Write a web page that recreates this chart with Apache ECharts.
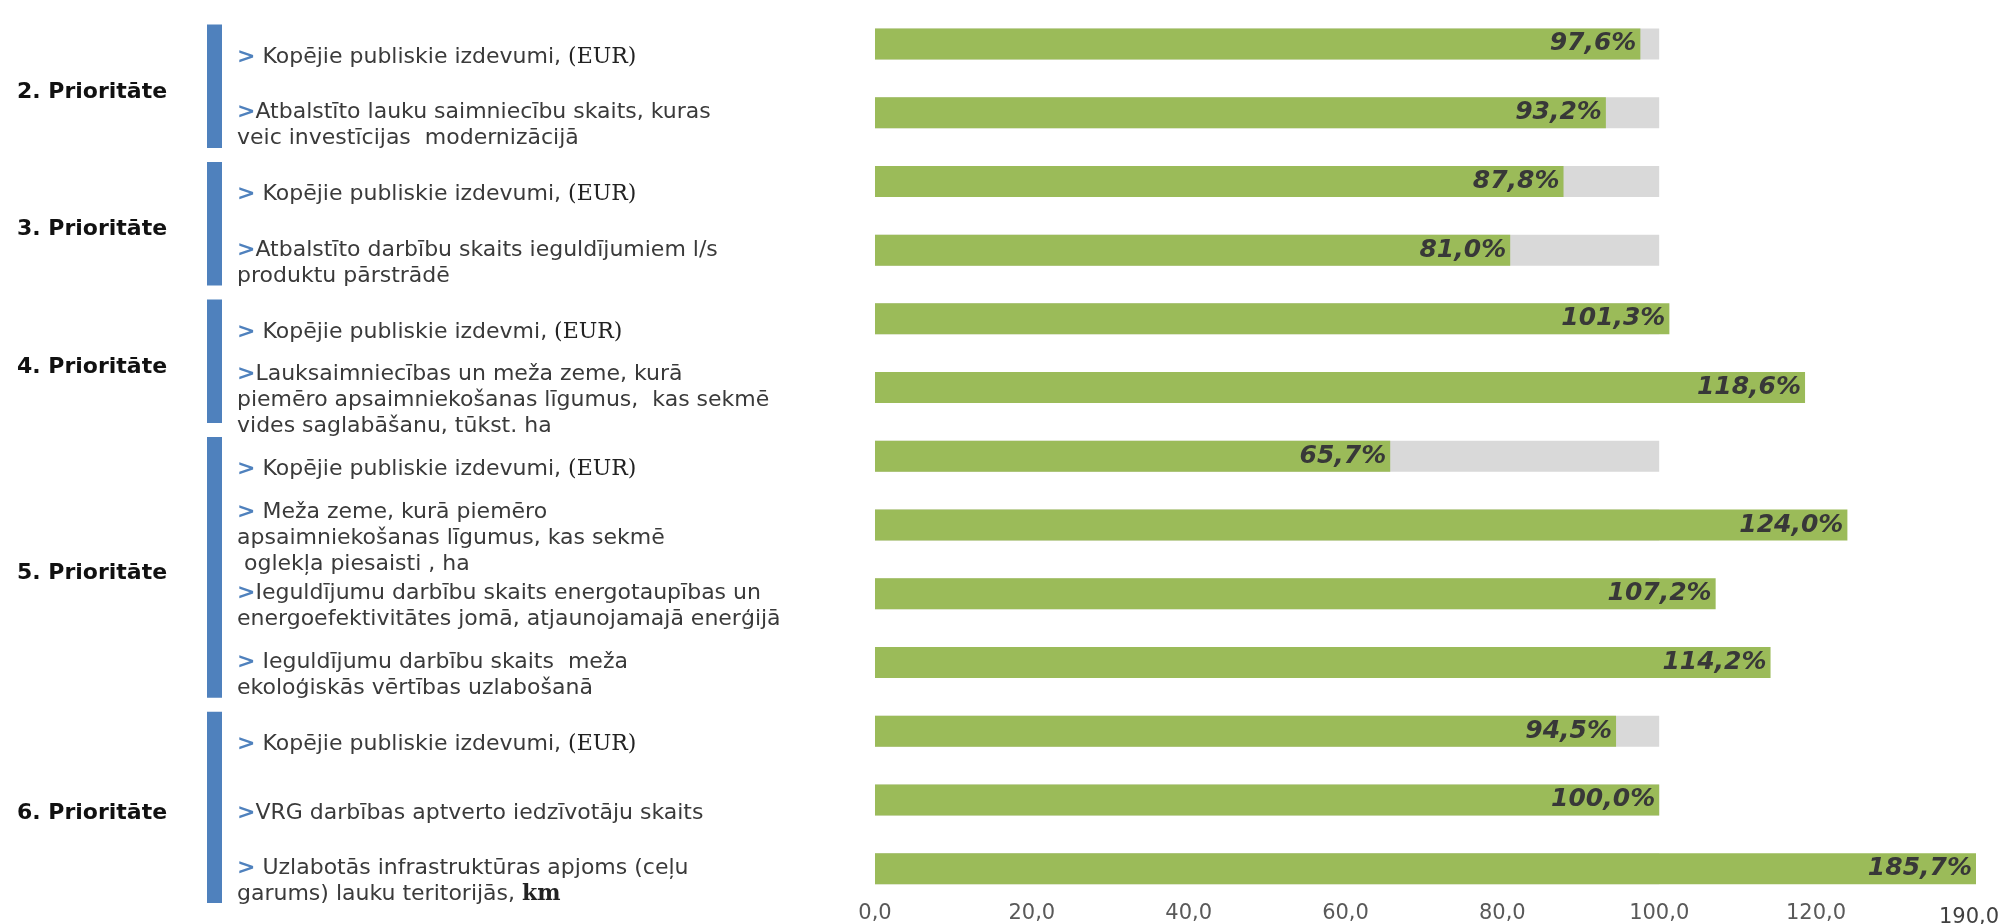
<!DOCTYPE html>
<html>
<head>
<meta charset="utf-8">
<script src="https://cdn.jsdelivr.net/npm/echarts@6/dist/echarts.min.js"></script>
<style>
  html, body { margin: 0; padding: 0; background: #ffffff; }
  #chart { width: 2005px; height: 924px; }
</style>
</head>
<body>
<div id="chart"></div>
<script>
// ---- data ----
const categories = [
  ' Kopējie publiskie izdevumi, (EUR)',
  'Atbalstīto lauku saimniecību skaits, kuras\nveic investīcijas  modernizācijā',
  ' Kopējie publiskie izdevumi, (EUR)',
  'Atbalstīto darbību skaits ieguldījumiem l/s\nproduktu pārstrādē',
  ' Kopējie publiskie izdevmi, (EUR)',
  'Lauksaimniecības un meža zeme, kurā\npiemēro apsaimniekošanas līgumus,  kas sekmē\nvides saglabāšanu, tūkst. ha',
  ' Kopējie publiskie izdevumi, (EUR)',
  ' Meža zeme, kurā piemēro\napsaimniekošanas līgumus, kas sekmē\n oglekļa piesaisti , ha',
  'Ieguldījumu darbību skaits energotaupības un\nenergoefektivitātes jomā, atjaunojamajā enerģijā',
  ' Ieguldījumu darbību skaits  meža\nekoloģiskās vērtības uzlabošanā',
  ' Kopējie publiskie izdevumi, (EUR)',
  'VRG darbības aptverto iedzīvotāju skaits',
  ' Uzlabotās infrastruktūras apjoms (ceļu\ngarums) lauku teritorijās, km'
];
const achieved = [97.6, 93.2, 87.8, 81.0, 101.3, 118.6, 65.7, 124.0, 107.2, 114.2, 94.5, 100.0, 185.7];
const target = [100, 100, 100, 100, 100, 100, 100, 100, 100, 100, 100, 100, 100];
const groupNames = ['2. Prioritāte', '3. Prioritāte', '4. Prioritāte', '5. Prioritāte', '6. Prioritāte'];
const groupStart = [0, 2, 4, 6, 10];
const groupEnd = [1, 3, 5, 9, 12];
const axisMax = 140.4;           // visible end of the value axis
const axisTickStep = 20;
const axisMaxLabel = '190,0';

// ---- chart ----
const chart = echarts.init(document.getElementById('chart'), null, { renderer: 'canvas' });

function fmtNum(v) { return v.toFixed(1).replace('.', ','); }

const option = {
  backgroundColor: '#ffffff',
  animation: false,
  grid: {
    left: 875, right: 29, top: 9.6, bottom: 21,
    containLabel: false,
    outerBoundsMode: 'none'
  },
  xAxis: {
    type: 'value',
    min: 0,
    max: axisMax,
    interval: axisTickStep,
    splitLine: { show: false },
    axisLine: { show: false },
    axisTick: { show: false },
    axisLabel: {
      margin: 0,
      color: '#595959',
      fontFamily: 'DejaVu Sans',
      fontSize: 21,
      showMinLabel: true,
      showMaxLabel: true,
      hideOverlap: false,
      formatter: function (v) {
        if (Math.abs(v - axisMax) < 1e-6) return '{m|' + axisMaxLabel + '}';
        if (v > axisMax - axisTickStep / 2) return '';
        return fmtNum(v);
      },
      rich: {
        m: { color: '#404040', fontFamily: 'DejaVu Sans', fontSize: 21, padding: [4, 14, 0, 0] }
      }
    }
  },
  yAxis: {
    type: 'category',
    inverse: true,
    data: categories,
    axisLine: { show: false },
    axisTick: { show: false },
    splitLine: { show: false },
    axisLabel: {
      interval: 0,
      align: 'left',
      margin: 638,
      padding: [26, 0, 0, 0],
      color: '#3a3a3a',
      fontFamily: 'DejaVu Sans',
      fontSize: 22,
      lineHeight: 26,
      formatter: function (v) {
        const t = v.replace('(EUR)', '{e|(EUR)}').replace(/, km$/, ', {k|km}');
        return '{a|>}' + t;
      },
      rich: {
        a: { color: '#4F81BD', fontWeight: 'bold', fontFamily: 'DejaVu Sans', fontSize: 22, lineHeight: 26 },
        e: { color: '#222222', fontFamily: 'DejaVu Serif', fontSize: 22, lineHeight: 26 },
        k: { color: '#222222', fontFamily: 'DejaVu Serif', fontWeight: 'bold', fontSize: 22, lineHeight: 26 }
      }
    }
  },
  series: [
    {
      name: 'Plāns',
      type: 'bar',
      data: target,
      barWidth: 31,
      barGap: '-100%',
      itemStyle: { color: '#D9D9D9' },
      silent: true,
      z: 1
    },
    {
      name: 'Izpilde',
      type: 'bar',
      data: achieved,
      barWidth: 31,
      barGap: '-100%',
      clip: true,
      itemStyle: { color: '#9BBB59' },
      z: 2,
      label: {
        show: true,
        position: 'insideRight',
        distance: 4,
        color: '#383838',
        fontFamily: 'DejaVu Sans',
        fontStyle: 'italic',
        fontWeight: 'bold',
        fontSize: 25,
        formatter: function (p) { return fmtNum(p.value) + '%'; }
      }
    },
    {
      name: 'Prioritātes',
      type: 'custom',
      clip: false,
      silent: true,
      z: 3,
      encode: { x: 0, y: 1 },
      data: groupStart.map(function (s, i) { return [0, s, groupEnd[i]]; }),
      renderItem: function (params, api) {
        const s = api.value(1);
        const e = api.value(2);
        const p0 = api.coord([0, s]);
        const p1 = api.coord([0, e]);
        const band = api.size([0, 1])[1];
        const axisEnd = api.coord([0, categories.length - 1])[1] + band / 2;
        const top = p0[1] - band / 2 + 15;
        const bottom = Math.min(p1[1] + band / 2 + 1, axisEnd);
        const x0 = p0[0];
        return {
          type: 'group',
          children: [
            {
              type: 'rect',
              shape: { x: x0 - 668, y: top, width: 15, height: bottom - top },
              style: { fill: '#4F81BD' }
            },
            {
              type: 'text',
              style: {
                text: groupNames[params.dataIndex],
                x: x0 - 783,
                y: (top + bottom) / 2 + 6,
                align: 'center',
                verticalAlign: 'middle',
                fill: '#111111',
                fontFamily: 'DejaVu Sans',
                fontWeight: 'bold',
                fontSize: 22
              }
            }
          ]
        };
      }
    }
  ]
};

chart.setOption(option);
</script>
</body>
</html>
